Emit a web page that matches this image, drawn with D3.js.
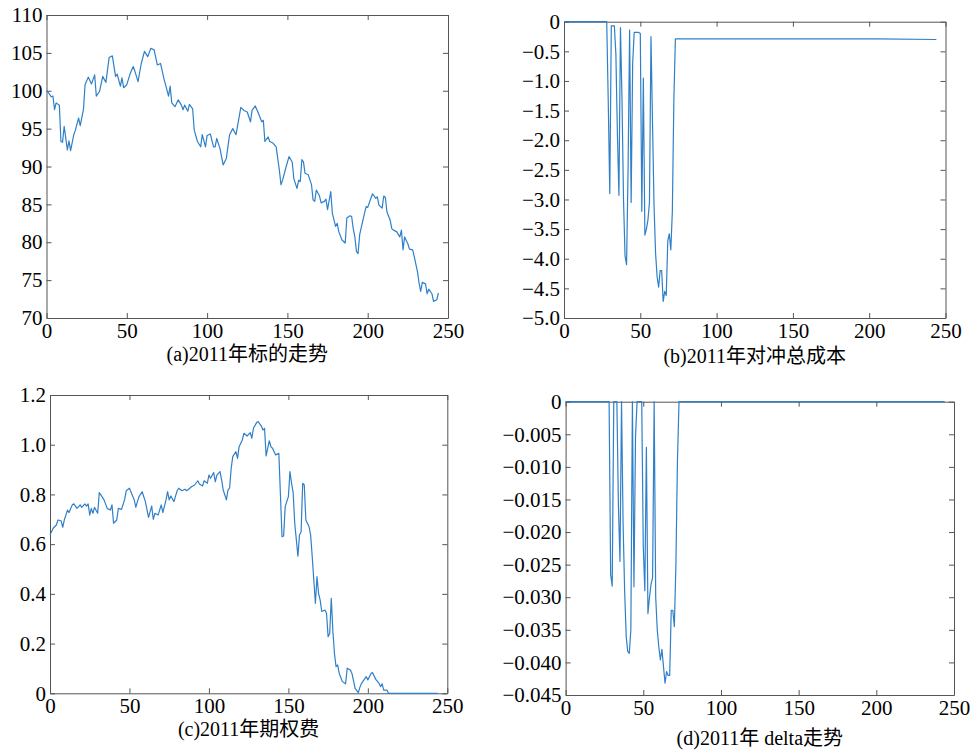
<!DOCTYPE html>
<html><head><meta charset="utf-8">
<script src="https://cdn.jsdelivr.net/npm/d3@7"></script>
<style>body{margin:0;background:#fff}</style>
</head><body><svg id="chart" width="973" height="750"></svg>
<script>
// ---------- data ----------
const xTicks = [0, 50, 100, 150, 200, 250];

const daysA = [0,1,3,4,5,6,8,9,10,11,13,14,15,17,18,20,21,23,24,26,28,30,31,33,35,37,39,41,43,44,46,47,48,50,52,54,55,57,59,61,63,65,67,69,71,73,76,77,78,80,82,84,85,86,88,89,91,92,94,96,97,99,100,102,104,105,106,108,110,112,114,116,118,119,121,123,125,127,128,130,132,134,135,136,138,139,141,143,145,146,147,149,151,153,154,156,157,158,159,160,161,163,165,166,167,168,170,171,173,174,175,177,178,180,181,182,184,186,187,189,190,191,192,193,194,195,197,198,199,200,202,203,205,206,207,209,210,211,212,214,215,216,218,220,221,222,223,225,226,228,229,231,232,233,234,236,237,238,240,241,243,244];
const priceA = [100.0,99.8,99.2,99.3,97.5,98.4,98.1,93.3,93.2,95.3,92.2,93.4,92.1,94.2,94.8,96.4,95.4,97.5,100.8,101.8,100.9,102.1,99.3,99.9,101.9,101.1,104.4,104.6,101.9,102.2,100.6,101.7,100.4,100.8,102.2,103.2,102.6,101.2,103.6,105.2,104.5,105.6,105.4,103.4,103.6,101.7,99.3,100.6,98.4,97.9,98.8,98.1,97.5,98.1,97.3,98.2,97.6,94.8,93.3,92.6,94.2,92.6,94.1,94.3,92.6,92.6,93.7,92.4,90.2,91.1,94.2,95.0,94.2,95.4,97.8,97.4,97.2,95.9,97.4,98.0,97.0,95.9,96.1,93.3,93.9,93.3,93.1,92.6,89.5,87.6,88.2,89.8,91.3,90.6,88.4,87.1,88.2,88.0,90.9,90.6,89.1,88.9,87.6,85.6,85.4,86.9,86.1,85.2,85.4,85.7,84.3,86.7,83.8,82.1,82.5,81.4,80.3,79.9,83.2,83.5,83.4,81.8,80.7,78.8,78.5,81.0,82.9,83.8,84.7,84.6,85.8,86.4,85.8,86.0,84.9,84.5,86.1,85.9,84.0,82.9,81.8,81.6,81.4,80.7,81.6,79.0,80.7,79.8,79.1,79.0,78.1,76.1,74.6,73.5,74.7,74.5,73.2,73.8,73.2,72.2,72.4,73.3];
const yTicksA = [70, 75, 80, 85, 90, 95, 100, 105, 110];

const daysB = [0,28,29,30,31,32,33,34,35,36,37,38,39,40,41,42,43,44,45,46,47,48,49,50,51,52,53,54,55,56,57,58,59,60,61,62,63,64,65,66,67,68,69,70,71,72,73,205,244];
const costB = [0,0,-1.35,-2.9,-0.07,-0.07,-0.07,-0.55,-1.9,-2.93,-0.1,-1.3,-3.0,-3.95,-4.1,-2.45,-0.14,-3.05,-0.7,-0.18,-0.18,-0.18,-0.18,-0.2,-3.2,-0.95,-3.6,-3.5,-3.35,-3.05,-0.25,-1.7,-3.1,-3.9,-4.3,-4.48,-4.2,-4.2,-4.72,-4.55,-4.62,-3.7,-3.58,-3.85,-3.2,-1.3,-0.29,-0.29,-0.30];
const yTicksB = [-5.0, -4.5, -4.0, -3.5, -3.0, -2.5, -2.0, -1.5, -1.0, -0.5, 0];

const daysC = [0,2,4,5,7,8,9,11,12,14,15,17,19,20,22,23,24,25,26,27,28,30,31,32,34,36,38,39,40,42,43,45,47,48,50,52,53,54,55,56,58,60,61,62,64,65,66,68,70,71,73,74,75,76,78,80,81,83,85,86,88,89,91,93,94,96,97,99,100,101,103,104,105,107,108,109,111,112,113,114,115,117,118,119,121,122,124,126,127,128,130,131,133,134,135,136,138,139,140,142,144,145,146,147,148,150,151,152,153,154,156,157,158,159,160,161,163,164,165,166,167,168,169,170,171,173,174,175,176,177,178,179,180,181,182,184,186,187,189,190,192,194,195,196,199,200,202,203,205,207,208,209,210,212,213,244];
const premiumC = [0.637,0.664,0.677,0.697,0.694,0.668,0.697,0.737,0.727,0.758,0.762,0.744,0.758,0.748,0.762,0.753,0.762,0.717,0.744,0.724,0.748,0.724,0.807,0.798,0.778,0.744,0.737,0.758,0.684,0.697,0.744,0.740,0.780,0.815,0.825,0.794,0.778,0.748,0.771,0.791,0.811,0.771,0.740,0.708,0.753,0.700,0.724,0.717,0.758,0.727,0.778,0.811,0.778,0.794,0.771,0.815,0.825,0.815,0.821,0.815,0.825,0.831,0.838,0.855,0.842,0.834,0.855,0.845,0.878,0.865,0.888,0.851,0.878,0.892,0.858,0.818,0.778,0.818,0.825,0.905,0.952,0.972,0.945,0.992,1.019,1.046,1.035,1.049,1.026,1.066,1.089,1.093,1.075,1.059,1.066,0.955,1.016,0.992,0.986,0.959,0.965,0.800,0.630,0.633,0.751,0.791,0.892,0.845,0.807,0.684,0.552,0.637,0.650,0.845,0.838,0.697,0.670,0.637,0.550,0.456,0.362,0.469,0.402,0.375,0.329,0.335,0.322,0.228,0.241,0.382,0.250,0.160,0.107,0.114,0.080,0.047,0.038,0.101,0.094,0.080,0.020,0.003,0.024,0.040,0.067,0.054,0.080,0.083,0.056,0.040,0.027,0.038,0.013,0.013,0,0];
const yTicksC = [0, 0.2, 0.4, 0.6, 0.8, 1.0, 1.2];

const daysD = [0,28,29,30,31,32,33,34,35,36,37,38,39,40,41,42,43,44,45,46,47,48,49,50,51,52,53,54,55,56,57,58,59,60,61,62,63,64,65,66,67,68,69,70,71,72,73,244];
const deltaD = [0,0,-0.0265,-0.0283,0,0,0,-0.016,-0.0245,0,-0.0187,-0.029,-0.036,-0.0383,-0.0386,-0.035,0,-0.0284,-0.0054,0,0,0,0,-0.0222,-0.029,-0.007,-0.0325,-0.030,-0.028,-0.027,0,-0.030,-0.035,-0.0376,-0.0396,-0.038,-0.0406,-0.0432,-0.0414,-0.042,-0.042,-0.032,-0.032,-0.0345,-0.025,-0.009,0,0];
const yTicksD = [-0.045, -0.040, -0.035, -0.030, -0.025, -0.020, -0.015, -0.010, -0.005, 0];

const captions = ["(a)2011年标的走势", "(b)2011年对冲总成本", "(c)2011年期权费", "(d)2011年 delta走势"];

// ---------- drawing ----------
const FONT = "'Liberation Serif', 'Times New Roman', 'Noto Sans CJK SC', serif";
const svg = d3.select("#chart");
const lineColor = "#2f80c8";
const axisColor = "#555";

const panels = [
  {x0:46.5, x1:448, y0:15, y1:318, days:daysA, vals:priceA, yDom:[70,110], yTicks:yTicksA, fmt:d=>String(d), capY:356, cap:captions[0]},
  {x0:564, x1:945.5, y0:21.7, y1:318, days:daysB, vals:costB, yDom:[-5,0], yTicks:yTicksB, fmt:d=>d===0?"0":d3.format(".1f")(d), capY:358, cap:captions[1]},
  {x0:50, x1:447.3, y0:395, y1:693.3, days:daysC, vals:premiumC, yDom:[0,1.2], yTicks:yTicksC, fmt:d=>d===0?"0":d3.format(".1f")(d), capY:731, cap:captions[2]},
  {x0:565.6, x1:954, y0:401.7, y1:695, days:daysD, vals:deltaD, yDom:[-0.045,0], yTicks:yTicksD, fmt:d=>d===0?"0":d3.format(".3f")(d), capY:740, cap:captions[3]}
];

panels.forEach(p => {
  const x = d3.scaleLinear().domain([0,250]).range([p.x0, p.x1]);
  const y = d3.scaleLinear().domain(p.yDom).range([p.y1, p.y0]);
  const g = svg.append("g");

  const styleAxis = sel => {
    sel.attr("font-family", null).attr("font-size", null);
    sel.select(".domain").attr("stroke", axisColor);
    sel.selectAll(".tick line").attr("stroke", axisColor);
    sel.selectAll("text").attr("fill", "#000").style("font-family", FONT).style("font-size", "21px");
  };

  g.append("g").attr("transform", `translate(0,${p.y1})`)
    .call(d3.axisBottom(x).tickValues(xTicks).tickSize(-5).tickSizeOuter(0).tickPadding(5).tickFormat(d3.format("d")))
    .call(styleAxis);
  g.append("g").attr("transform", `translate(0,${p.y0})`)
    .call(d3.axisTop(x).tickValues(xTicks).tickSize(-5).tickSizeOuter(0).tickFormat(""))
    .call(styleAxis);
  g.append("g").attr("transform", `translate(${p.x0},0)`)
    .call(d3.axisLeft(y).tickValues(p.yTicks).tickSize(-5).tickSizeOuter(0).tickPadding(4).tickFormat(p.fmt))
    .call(styleAxis);
  g.append("g").attr("transform", `translate(${p.x1},0)`)
    .call(d3.axisRight(y).tickValues(p.yTicks).tickSize(-5).tickSizeOuter(0).tickFormat(""))
    .call(styleAxis);

  const data = p.days.map((d,i) => [d, p.vals[i]]);
  g.append("path").datum(data)
    .attr("fill", "none").attr("stroke", lineColor).attr("stroke-width", 1.2)
    .attr("stroke-linejoin", "round")
    .attr("d", d3.line().x(d => x(d[0])).y(d => y(d[1])));

  g.append("text").attr("x", (p.x0 + p.x1) / 2).attr("y", p.capY)
    .attr("text-anchor", "middle").attr("dominant-baseline", "middle")
    .style("font-family", FONT).style("font-size", "20px").attr("fill", "#000").text(p.cap);
});
</script></body></html>
